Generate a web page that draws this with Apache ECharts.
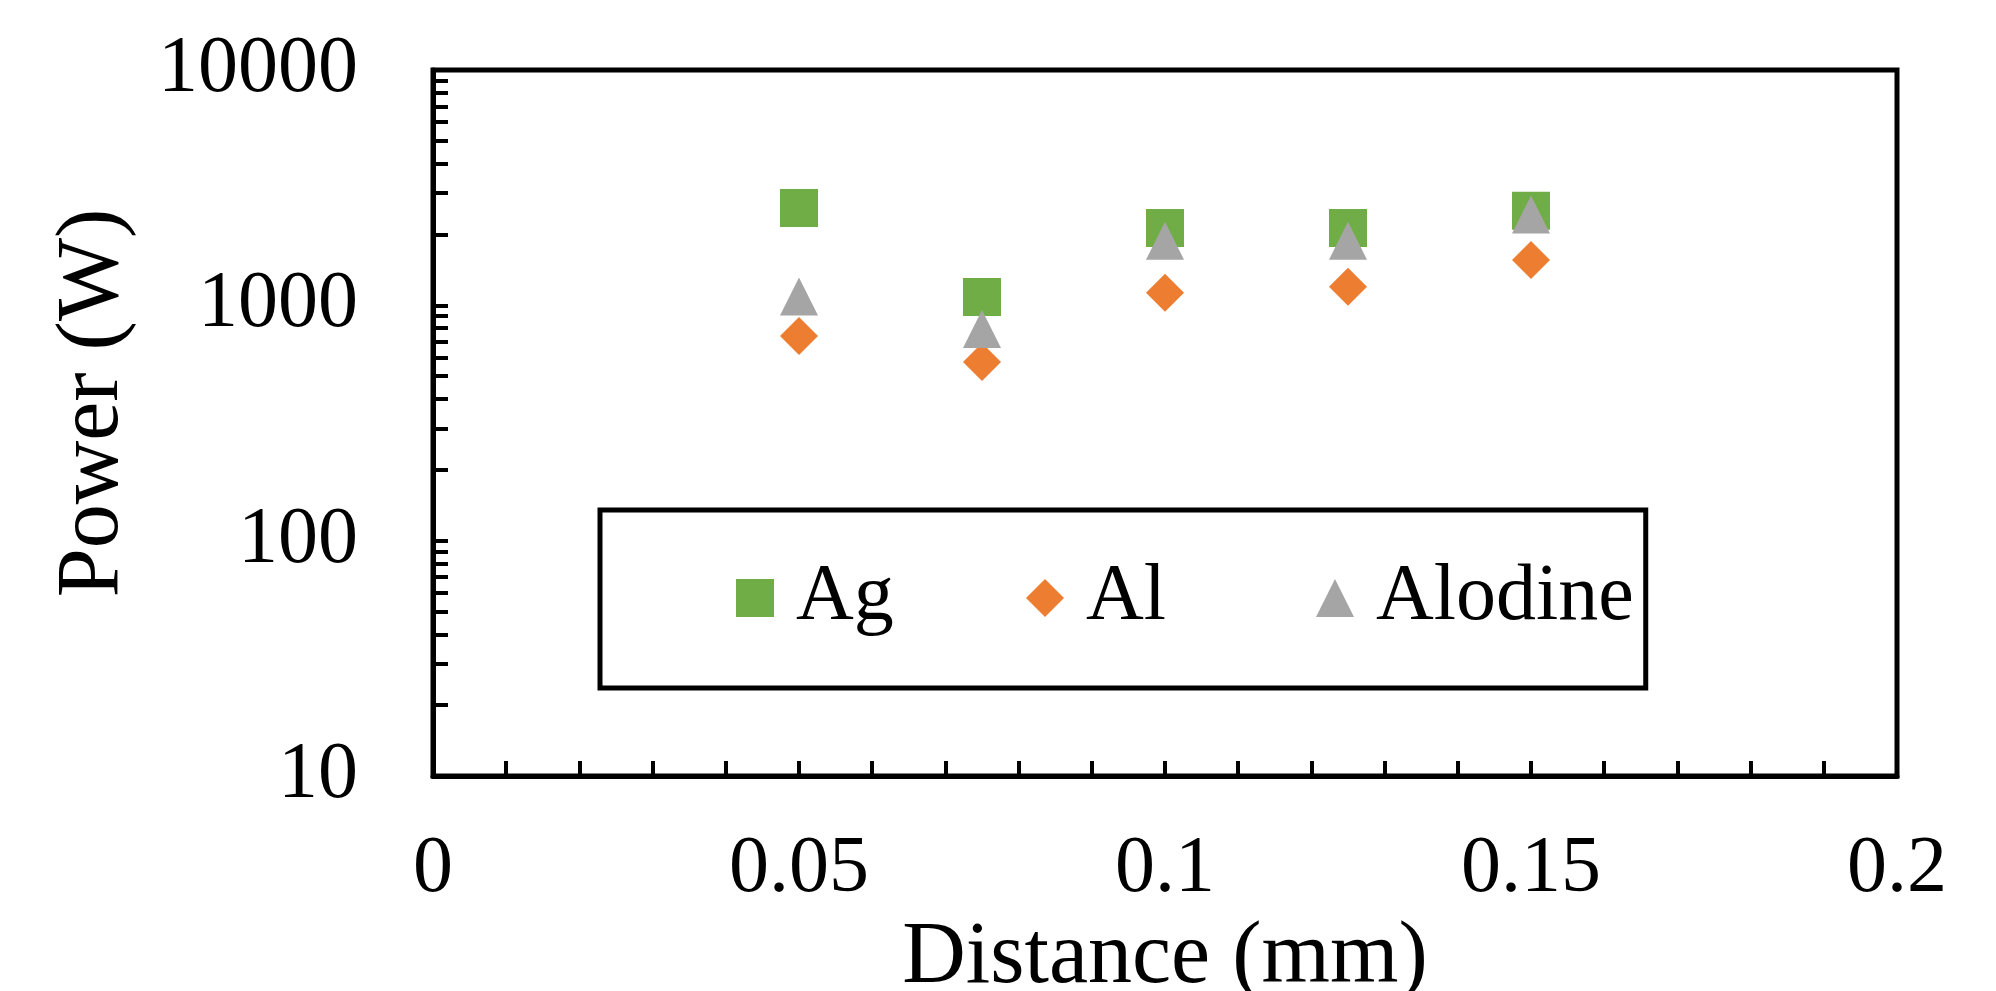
<!DOCTYPE html>
<html>
	<head>
		<meta charset="utf-8">
		<title>Power vs Distance</title>
		<script src="https://cdn.jsdelivr.net/npm/echarts@6/dist/echarts.min.js"></script>
		<style>
			html, body { margin: 0; padding: 0; background: #fff; }
		</style>
	</head>
	<body>
		<div id="main" style="width: 1996px;height: 991px;"></div>
		<script type="text/javascript">
			// data
			var distance = [0.05, 0.075, 0.1, 0.125, 0.15];
			var agPower = [2590, 1085, 2130, 2130, 2520];
			var alPower = [740, 574, 1130, 1200, 1560];
			var alodinePower = [1090, 793, 1880, 1880, 2430];

			var yLabelValues = [10, 100, 1000, 10000];
			var yTickValues = [10, 20, 30, 40, 50, 60, 70, 80, 90,
				100, 200, 300, 400, 500, 600, 700, 800, 900,
				1000, 2000, 3000, 4000, 5000, 6000, 7000, 8000, 9000, 10000];

			function pairs(xs, ys) {
				var out = [];
				for (var i = 0; i < xs.length; i++) out.push([xs[i], ys[i]]);
				return out;
			}

			var FONT = 'Liberation Serif';
			var myChart = echarts.init(document.getElementById('main'));

			var option = {
				backgroundColor: '#fff',
				animation: false,
				grid: {
					left: 433, right: 99, top: 70, bottom: 215,
					outerBoundsMode: 'none',
					containLabel: false,
					show: true, borderColor: '#000', borderWidth: 5
				},
				legend: {
					left: 600, top: 510,
					orient: 'horizontal',
					borderColor: '#000', borderWidth: 5,
					padding: [43, 12, 45, 136],
					itemWidth: 38, itemHeight: 38, itemGap: 40,
					textStyle: { fontFamily: FONT, fontSize: 80, color: '#000', padding: [0, 0, 0, 17], lineHeight: 90 },
					data: [
						{ name: 'Ag', textStyle: { width: 190 } },
						{ name: 'Al', textStyle: { width: 190 } },
						{ name: 'Alodine' }
					]
				},
				xAxis: {
					type: 'value',
					min: 0, max: 0.2, interval: 0.05,
					name: 'Distance (mm)',
					nameLocation: 'middle',
					nameGap: 110,
					nameTextStyle: { fontFamily: FONT, fontSize: 88, color: '#000' },
					axisLine: { show: true, lineStyle: { color: '#000', width: 5 } },
					axisTick: { show: true, inside: true, length: 15, lineStyle: { color: '#000', width: 4 } },
					minorTick: { show: true, splitNumber: 5, length: 15, lineStyle: { color: '#000', width: 4 } },
					axisLabel: { fontFamily: FONT, fontSize: 80, color: '#000', margin: 54 },
					splitLine: { show: false }
				},
				yAxis: {
					type: 'log',
					logBase: 10,
					min: 10, max: 10000,
					name: 'Power (W)',
					nameLocation: 'middle',
					nameGap: 295,
					nameTextStyle: { fontFamily: FONT, fontSize: 88, color: '#000', padding: [0, 0, 0, 40] },
					axisLine: { show: true, lineStyle: { color: '#000', width: 5 } },
					axisTick: { show: true, inside: true, length: 15, customValues: yTickValues, lineStyle: { color: '#000', width: 4 } },
					axisLabel: {
						fontFamily: FONT, fontSize: 80, color: '#000', margin: 75,
						customValues: yLabelValues,
						formatter: function (v) { return String(Math.round(v)); }
					},
					splitLine: { show: false }
				},
				series: [
					{
						name: 'Ag', type: 'scatter', symbol: 'rect', symbolSize: 38,
						itemStyle: { color: '#70AD47', opacity: 1 },
						data: pairs(distance, agPower)
					},
					{
						name: 'Al', type: 'scatter', symbol: 'diamond', symbolSize: 38,
						itemStyle: { color: '#ED7D31', opacity: 1 },
						data: pairs(distance, alPower)
					},
					{
						name: 'Alodine', type: 'scatter', symbol: 'triangle', symbolSize: 38,
						itemStyle: { color: '#A5A5A5', opacity: 1 },
						data: pairs(distance, alodinePower)
					}
				]
			};

			myChart.setOption(option);
		</script>
	</body>
</html>
